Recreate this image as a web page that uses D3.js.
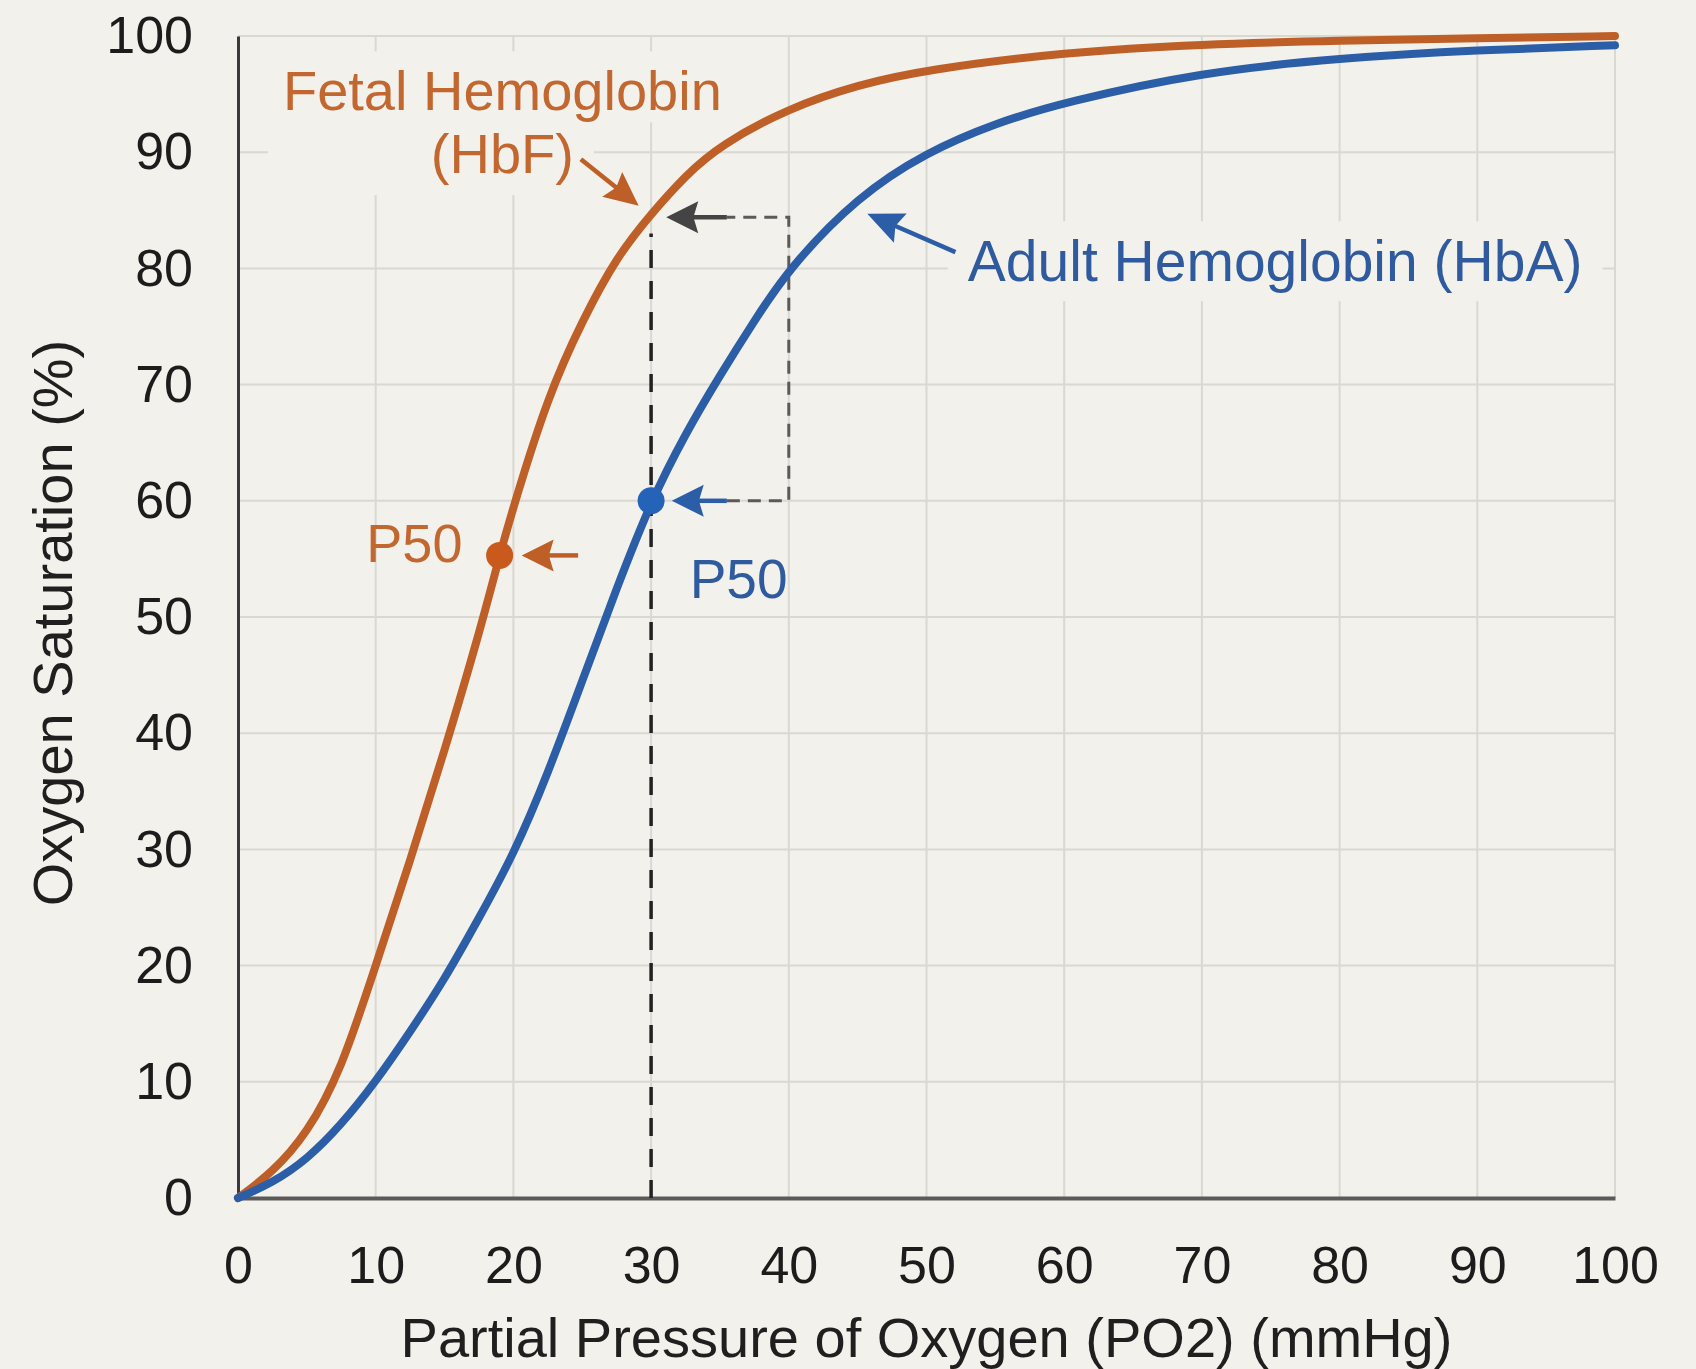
<!DOCTYPE html>
<html>
<head>
<meta charset="utf-8">
<script src="https://cdn.jsdelivr.net/npm/d3@7"></script>
<style>
  html, body { margin: 0; padding: 0; background: #f3f1eb; }
  svg { display: block; font-family: "Liberation Sans", Arial, Helvetica, sans-serif; }
</style>
</head>
<body>
<div id="chart"></div>
<script>
// readings from the curves (PO2 in mmHg, saturation in %)
const fetalPO2 = [0, 2.5, 5, 7.5, 10, 12.5, 15, 17.5, 19, 20, 22.5, 25, 27.5, 30, 32.5, 35, 40, 45, 50, 60, 70, 80, 90, 100]
const fetalSat = [0, 2.2, 5.5, 11, 20, 29, 38.5, 48.5, 55.3, 59.5, 69, 75.5, 81, 84.7, 88, 90.6, 93.8, 95.8, 97.1, 98.6, 99.3, 99.6, 99.8, 100]
const adultPO2 = [0, 2.5, 5, 7.5, 10, 12.5, 15, 17.5, 20, 22.5, 25, 27.5, 30, 32.5, 35, 37.5, 40, 45, 50, 55, 60, 70, 80, 90, 100]
const adultSat = [0, 1.3, 3.3, 6.3, 10, 14.3, 18.8, 24.1, 29.5, 36.5, 44.5, 52.5, 60, 65.8, 70.8, 75.5, 80, 86.2, 90, 92.5, 94.3, 96.9, 98.1, 98.8, 99.2]

const xTicks = [0, 10, 20, 30, 40, 50, 60, 70, 80, 90, 100]
const yTicks = [0, 10, 20, 30, 40, 50, 60, 70, 80, 90, 100]

// P50 markers
const p50PO2 = [19, 30]
const p50Sat = [55.3, 60]

const xTitle = "Partial Pressure of Oxygen (PO2) (mmHg)"
const yTitle = "Oxygen Saturation (%)"
const fetalLabel = ["Fetal Hemoglobin", "(HbF)"]
const adultLabel = "Adult Hemoglobin (HbA)"

const orange = "#bf5f28", orangeText = "#c2672f", orangeDot = "#c9591c"
const blue = "#2c5ea8", blueText = "#2f5b9e", blueDot = "#2563b8"
const bg = "#f3f1eb"

var W = 1696, H = 1369
var margin = { top: 36, right: 81, bottom: 171, left: 238 },
    width = W - margin.left - margin.right,
    height = H - margin.top - margin.bottom

let svg = d3.select("#chart")
    .append("svg")
    .attr("width", W)
    .attr("height", H)

svg.append("rect").attr("width", W).attr("height", H).attr("fill", bg)

let g = svg.append("g")
    .attr("transform", "translate(" + margin.left + "," + margin.top + ")")

var x = d3.scaleLinear().domain([0, 100]).range([0, width])
var y = d3.scaleLinear().domain([0, 100]).range([height, 0])

// grid
g.append("g").selectAll("line")
    .data(xTicks.slice(1))
    .join("line")
    .attr("x1", d => x(d)).attr("x2", d => x(d))
    .attr("y1", 0).attr("y2", height)
    .attr("stroke", "#d9d8d2").attr("stroke-width", 2)
g.append("g").selectAll("line")
    .data(yTicks.slice(1))
    .join("line")
    .attr("x1", 0).attr("x2", width)
    .attr("y1", d => y(d)).attr("y2", d => y(d))
    .attr("stroke", "#d9d8d2").attr("stroke-width", 2)

// label boxes go under the curves, above the grid
let boxLayer = g.append("g")

// axes
var xAxis = g.append("g")
    .attr("transform", "translate(0," + height + ")")
    .call(d3.axisBottom(x).tickValues(xTicks).tickSize(0).tickPadding(48))
var yAxis = g.append("g")
    .call(d3.axisLeft(y).tickValues(yTicks).tickSize(0).tickPadding(45))

xAxis.select(".domain").attr("stroke", "#5a5a5a").attr("stroke-width", 4)
yAxis.select(".domain").attr("stroke", "#3a3a3a").attr("stroke-width", 3)
g.selectAll(".tick text")
    .attr("font-size", 52)
    .attr("font-family", "Liberation Sans, Arial, sans-serif")
    .attr("fill", "#1c1c1c")

svg.append("text")
    .attr("x", margin.left + width / 2)
    .attr("y", 1357)
    .attr("text-anchor", "middle")
    .attr("font-size", 56)
    .attr("fill", "#1f1f1f")
    .text(xTitle)

svg.append("text")
    .attr("transform", "translate(72," + (margin.top + height / 2 + 6) + ") rotate(-90)")
    .attr("text-anchor", "middle")
    .attr("font-size", 56)
    .attr("fill", "#1f1f1f")
    .text(yTitle)

// guide lines
g.append("line")
    .attr("x1", x(30)).attr("x2", x(30))
    .attr("y1", y(0)).attr("y2", y(83))
    .attr("stroke", "#222").attr("stroke-width", 3.5)
    .attr("stroke-dasharray", "18,13")

g.append("path")
    .attr("d", d3.line()([[x(35.5), y(60)], [x(40), y(60)], [x(40), y(84.4)], [x(35.5), y(84.4)]]))
    .attr("fill", "none")
    .attr("stroke", "#5a5a5a").attr("stroke-width", 3)
    .attr("stroke-dasharray", "13,8")

// curves
var line = d3.line()
    .x(d => x(d[0]))
    .y(d => y(d[1]))
    .curve(d3.curveBasis)

g.append("path")
    .attr("d", line(fetalPO2.map((p, i) => [p, fetalSat[i]])))
    .attr("fill", "none").attr("stroke", orange).attr("stroke-width", 8)
    .attr("stroke-linecap", "round")

g.append("path")
    .attr("d", line(adultPO2.map((p, i) => [p, adultSat[i]])))
    .attr("fill", "none").attr("stroke", blue).attr("stroke-width", 8)
    .attr("stroke-linecap", "round")

// P50 dots
g.append("circle").attr("cx", x(p50PO2[0])).attr("cy", y(p50Sat[0])).attr("r", 13.5).attr("fill", orangeDot)
g.append("circle").attr("cx", x(p50PO2[1])).attr("cy", y(p50Sat[1])).attr("r", 13.5).attr("fill", blueDot)

// arrows: from (x1,y1) to tip (x2,y2), in data units
function arrow(x1, y1, x2, y2, color, len, half) {
    var ax = x(x1), ay = y(y1), bx = x(x2), by = y(y2)
    var ang = Math.atan2(by - ay, bx - ax)
    var ux = Math.cos(ang), uy = Math.sin(ang)
    var baseX = bx - ux * len * 0.8, baseY = by - uy * len * 0.8
    g.append("line")
        .attr("x1", ax).attr("y1", ay).attr("x2", baseX).attr("y2", baseY)
        .attr("stroke", color).attr("stroke-width", 4.5)
    var p1 = [bx - ux * len - uy * half, by - uy * len + ux * half]
    var p2 = [bx - ux * len + uy * half, by - uy * len - ux * half]
    var notch = [bx - ux * len * 0.85, by - uy * len * 0.85]
    g.append("path")
        .attr("d", "M" + bx + "," + by + "L" + p1 + "L" + notch + "L" + p2 + "Z")
        .attr("fill", color)
}

arrow(24.7, 55.3, 20.6, 55.3, orange, 32, 16)
arrow(35.5, 60, 31.5, 60, blue, 32, 16)
arrow(35.5, 84.4, 31.1, 84.4, "#444", 32, 16)
arrow(24.9, 89.4, 29.1, 85.4, orange, 34, 16)
arrow(52.1, 81.4, 45.7, 84.7, blue, 36, 16)

// text labels
function addBox(el, padX, padY) {
    var b = el.node().getBBox()
    return boxLayer.append("rect")
        .attr("x", b.x - padX).attr("y", b.y - padY)
        .attr("width", b.width + 2 * padX).attr("height", b.height + 2 * padY)
        .attr("fill", bg)
}

var f1 = g.append("text")
    .attr("x", x(19.2)).attr("y", y(93.6))
    .attr("text-anchor", "middle").attr("font-size", 56).attr("fill", orangeText)
    .text(fetalLabel[0])
var f2 = g.append("text")
    .attr("x", x(19.2)).attr("y", y(88.2))
    .attr("text-anchor", "middle").attr("font-size", 56).attr("fill", orangeText)
    .text(fetalLabel[1])
var b1 = f1.node().getBBox(), b2 = f2.node().getBBox()
boxLayer.append("rect")
    .attr("x", b1.x - 15).attr("y", b1.y - 8)
    .attr("width", b1.width + 30).attr("height", b1.height + 8)
    .attr("fill", bg)
boxLayer.append("rect")
    .attr("x", b1.x - 15).attr("y", b1.y + b1.height - 4)
    .attr("width", b2.x + b2.width + 20 - (b1.x - 15)).attr("height", b2.y + b2.height + 10 - (b1.y + b1.height - 4))
    .attr("fill", bg)

var a1 = g.append("text")
    .attr("x", x(53)).attr("y", y(78.9))
    .attr("font-size", 57).attr("fill", blueText)
    .text(adultLabel)
addBox(a1, 20, 8)

g.append("text")
    .attr("x", x(16.3)).attr("y", y(54.7))
    .attr("text-anchor", "end").attr("font-size", 54).attr("fill", orangeText)
    .text("P50")
g.append("text")
    .attr("x", x(32.8)).attr("y", y(51.6))
    .attr("font-size", 55).attr("fill", blueText)
    .text("P50")
</script>
</body>
</html>
